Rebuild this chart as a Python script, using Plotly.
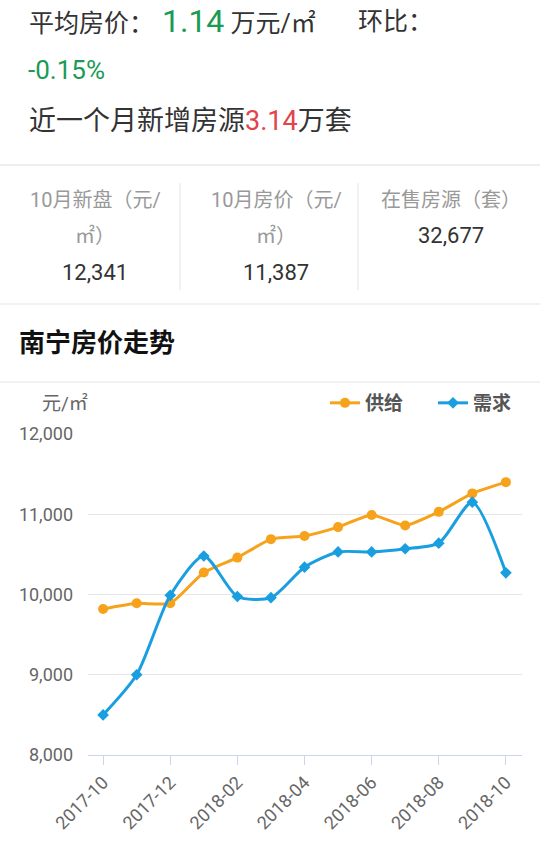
import plotly.graph_objects as go

W, H = 540, 844
L, R, T, B = 88, 18, 434, 89
PW, PH = W - L - R, H - T - B

FONT = "Roboto, 'Noto Sans CJK SC', sans-serif"

months = ['2017-10', '2017-11', '2017-12', '2018-01', '2018-02', '2018-03', '2018-04',
          '2018-05', '2018-06', '2018-07', '2018-08', '2018-09', '2018-10']
supply = [9820, 9890, 9890, 10275, 10460, 10690, 10730, 10840, 10990, 10860, 11030, 11260, 11400]
demand = [8500, 9000, 9990, 10480, 9975, 9960, 10340, 10530, 10530, 10570, 10640, 11150, 10270]

avg_price = '1.14'
mom_change = '-0.15%'
new_listings = '3.14'
stat_labels = [['10月新盘（元/', '㎡）'], ['10月房价（元/', '㎡）'], ['在售房源（套）']]
stat_values = ['12,341', '11,387', '32,677']
y_ticks = [8000, 9000, 10000, 11000, 12000]

ORANGE = '#f7a21b'
BLUE = '#199ee0'
GREEN = '#1a9b55'
RED = '#e3434b'


def px(x):
    return (x - L) / PW


def py(y):
    return (H - B - y) / PH


def note(text, x, y, size, color='#333333', anchor='left', bold=False):
    return dict(text=text, x=px(x), y=py(y), xref='paper', yref='paper',
                xanchor=anchor, yanchor='middle', showarrow=False,
                font=dict(size=size, color=color, family=FONT,
                          weight='bold' if bold else 'normal'))


fig = go.Figure()
fig.add_trace(go.Scatter(
    x=months, y=supply, name='供给', mode='lines+markers',
    line=dict(color=ORANGE, width=3, shape='spline', smoothing=0.5),
    marker=dict(symbol='circle', size=10, color=ORANGE),
))
fig.add_trace(go.Scatter(
    x=months, y=demand, name='需求', mode='lines+markers',
    line=dict(color=BLUE, width=3, shape='spline', smoothing=0.7),
    marker=dict(symbol='diamond', size=9, color=BLUE),
))

annotations = [
    note(f'平均房价：<span style="color:{GREEN};font-size:32px">&nbsp;{avg_price}</span> 万元/㎡',
         27, 21, 25),
    note('环比：', 356, 21, 25),
    note(mom_change, 26, 70, 26, GREEN),
    note(f'近一个月新增房源<span style="color:{RED}">{new_listings}</span>万套', 27, 121, 27),
    note('南宁房价走势', 17, 343, 26, '#111111', bold=True),
    note('元/㎡', 40, 403, 19, '#666666'),
]
col_x = [95, 276, 451]
for cx, labels, val in zip(col_x, stat_labels, stat_values):
    for i, lab in enumerate(labels):
        annotations.append(note(lab, cx, 200 + 36 * i, 20, '#999999', anchor='center'))
    annotations.append(note(val, cx, 200 + 36 * len(labels), 22, '#333333', anchor='center'))

shapes = []
for y, w in [(165, 2), (304, 1.5), (382, 1.5)]:
    shapes.append(dict(type='line', xref='paper', yref='paper', x0=px(0), x1=px(W),
                       y0=py(y), y1=py(y), line=dict(color='#eeeeee', width=w)))
for x in [180, 358]:
    shapes.append(dict(type='line', xref='paper', yref='paper', x0=px(x), x1=px(x),
                       y0=py(183), y1=py(290), line=dict(color='#eeeeee', width=1.5)))

fig.update_layout(
    width=W, height=H,
    margin=dict(l=L, r=R, t=T, b=B, autoexpand=False),
    paper_bgcolor='#ffffff', plot_bgcolor='#ffffff',
    font=dict(family=FONT, color='#666666'),
    annotations=annotations, shapes=shapes,
    showlegend=True,
    legend=dict(orientation='h', xref='container', yref='container',
                x=325 / W, y=1 - 403 / H, xanchor='left', yanchor='middle',
                entrywidth=63, entrywidthmode='pixels',
                font=dict(size=19, color='#555555', weight='bold'),
                bgcolor='rgba(0,0,0,0)'),
)
fig.update_xaxes(
    type='category', range=[-0.45, 12.48],
    tickvals=months[::2], ticktext=months[::2], tickangle=-45,
    tickfont=dict(size=18, color='#666666'),
    showgrid=False, showline=True, linecolor='#ccd6eb', linewidth=1,
    ticks='outside', ticklen=9, tickcolor='#ccd6eb',
)
fig.update_yaxes(
    range=[8000, 12000], tickvals=y_ticks, tickformat=',',
    tickfont=dict(size=18, color='#666666'),
    gridcolor='#e6e6e6', gridwidth=1, zeroline=False, ticks='', ticklabelstandoff=14,
)

# drop the page's default body margin so the figure sits at the window's top-left corner
fig.write_html('out.html', config={'displayModeBar': False},
               post_script="document.body.style.margin='0';")
